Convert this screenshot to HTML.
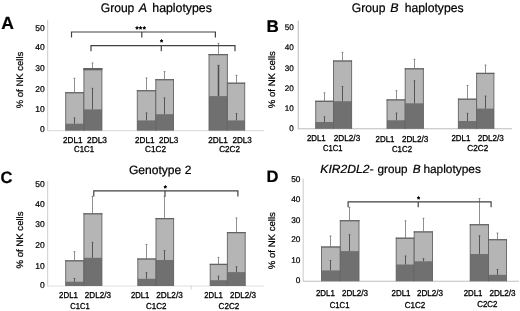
<!DOCTYPE html>
<html><head><meta charset="utf-8"><title>NK cells haplotypes</title>
<style>
html,body{margin:0;padding:0;background:#fff;}
body{width:520px;height:311px;overflow:hidden;font-family:"Liberation Sans",sans-serif;}
svg{display:block;font-family:"Liberation Sans",sans-serif;text-rendering:geometricPrecision;will-change:transform;opacity:0.999;filter:blur(0.35px);}
text{stroke:#000;stroke-width:0.22px;}
</style></head><body>
<svg width="520" height="311" viewBox="0 0 520 311">
<rect width="520" height="311" fill="#ffffff"/>
<line x1="47.60" y1="19.80" x2="47.60" y2="131.10" stroke="#d3d3d3" stroke-width="1.2" />
<line x1="47.60" y1="130.60" x2="264.00" y2="130.60" stroke="#e0e0e0" stroke-width="1.1" />
<rect x="65.70" y="92.10" width="18.20" height="38.50" fill="#b5b5b5"/>
<rect x="65.70" y="123.70" width="18.20" height="6.90" fill="#707070"/>
<path d="M65.70 130.60 V92.10 M83.90 130.60 V92.10" fill="none" stroke="#626262" stroke-width="0.9"/>
<rect x="65.25" y="92.10" width="19.10" height="1.25" fill="#626262"/>
<line x1="74.50" y1="78.00" x2="74.50" y2="92.90" stroke="#747474" stroke-width="0.8" />
<line x1="73.60" y1="78.30" x2="75.40" y2="78.30" stroke="#747474" stroke-width="0.8" />
<line x1="74.50" y1="117.70" x2="74.50" y2="123.70" stroke="#555" stroke-width="1.0" />
<line x1="73.60" y1="118.00" x2="75.40" y2="118.00" stroke="#555" stroke-width="0.8" />
<rect x="83.90" y="68.00" width="18.00" height="62.60" fill="#b5b5b5"/>
<rect x="83.90" y="109.40" width="18.00" height="21.20" fill="#707070"/>
<path d="M83.90 130.60 V68.00 M101.90 130.60 V68.00" fill="none" stroke="#626262" stroke-width="0.9"/>
<rect x="83.45" y="68.00" width="18.90" height="2.3" fill="#626262"/>
<line x1="92.50" y1="62.70" x2="92.50" y2="68.80" stroke="#747474" stroke-width="0.8" />
<line x1="91.60" y1="63.00" x2="93.40" y2="63.00" stroke="#747474" stroke-width="0.8" />
<line x1="92.50" y1="88.00" x2="92.50" y2="109.40" stroke="#555" stroke-width="1.0" />
<line x1="91.60" y1="88.30" x2="93.40" y2="88.30" stroke="#555" stroke-width="0.8" />
<rect x="137.30" y="90.10" width="18.50" height="40.50" fill="#b5b5b5"/>
<rect x="137.30" y="120.40" width="18.50" height="10.20" fill="#707070"/>
<path d="M137.30 130.60 V90.10 M155.80 130.60 V90.10" fill="none" stroke="#626262" stroke-width="0.9"/>
<rect x="136.85" y="90.10" width="19.40" height="1.25" fill="#626262"/>
<line x1="146.50" y1="77.70" x2="146.50" y2="90.90" stroke="#747474" stroke-width="0.8" />
<line x1="145.60" y1="78.00" x2="147.40" y2="78.00" stroke="#747474" stroke-width="0.8" />
<line x1="146.50" y1="112.70" x2="146.50" y2="120.40" stroke="#555" stroke-width="1.0" />
<line x1="145.60" y1="113.00" x2="147.40" y2="113.00" stroke="#555" stroke-width="0.8" />
<rect x="155.80" y="79.10" width="17.70" height="51.50" fill="#b5b5b5"/>
<rect x="155.80" y="114.20" width="17.70" height="16.40" fill="#707070"/>
<path d="M155.80 130.60 V79.10 M173.50 130.60 V79.10" fill="none" stroke="#626262" stroke-width="0.9"/>
<rect x="155.35" y="79.10" width="18.60" height="1.25" fill="#626262"/>
<line x1="164.50" y1="71.30" x2="164.50" y2="79.90" stroke="#747474" stroke-width="0.8" />
<line x1="163.60" y1="71.60" x2="165.40" y2="71.60" stroke="#747474" stroke-width="0.8" />
<line x1="164.50" y1="97.60" x2="164.50" y2="114.20" stroke="#555" stroke-width="1.0" />
<line x1="163.60" y1="97.90" x2="165.40" y2="97.90" stroke="#555" stroke-width="0.8" />
<rect x="209.00" y="54.00" width="18.40" height="76.60" fill="#b5b5b5"/>
<rect x="209.00" y="96.10" width="18.40" height="34.50" fill="#707070"/>
<path d="M209.00 130.60 V54.00 M227.40 130.60 V54.00" fill="none" stroke="#626262" stroke-width="0.9"/>
<rect x="208.55" y="54.00" width="19.30" height="1.25" fill="#626262"/>
<line x1="218.50" y1="43.00" x2="218.50" y2="54.80" stroke="#747474" stroke-width="0.8" />
<line x1="217.60" y1="43.30" x2="219.40" y2="43.30" stroke="#747474" stroke-width="0.8" />
<line x1="218.50" y1="65.00" x2="218.50" y2="96.10" stroke="#4c4c4c" stroke-width="1.5" />
<line x1="217.60" y1="65.30" x2="219.40" y2="65.30" stroke="#555" stroke-width="0.8" />
<rect x="227.40" y="82.60" width="17.30" height="48.00" fill="#b5b5b5"/>
<rect x="227.40" y="120.40" width="17.30" height="10.20" fill="#707070"/>
<path d="M227.40 130.60 V82.60 M244.70 130.60 V82.60" fill="none" stroke="#626262" stroke-width="0.9"/>
<rect x="226.95" y="82.60" width="18.20" height="1.25" fill="#626262"/>
<line x1="236.50" y1="75.00" x2="236.50" y2="83.40" stroke="#747474" stroke-width="0.8" />
<line x1="235.60" y1="75.30" x2="237.40" y2="75.30" stroke="#747474" stroke-width="0.8" />
<line x1="236.50" y1="113.20" x2="236.50" y2="120.40" stroke="#555" stroke-width="1.0" />
<line x1="235.60" y1="113.50" x2="237.40" y2="113.50" stroke="#555" stroke-width="0.8" />
<line x1="298.30" y1="20.80" x2="298.30" y2="129.30" stroke="#c4c4c4" stroke-width="1.2" />
<line x1="298.30" y1="128.80" x2="512.00" y2="128.80" stroke="#bcbcbc" stroke-width="1.1" />
<rect x="315.70" y="100.70" width="17.80" height="28.10" fill="#b5b5b5"/>
<rect x="315.70" y="122.00" width="17.80" height="6.80" fill="#707070"/>
<path d="M315.70 128.80 V100.70 M333.50 128.80 V100.70" fill="none" stroke="#626262" stroke-width="0.9"/>
<rect x="315.25" y="100.70" width="18.70" height="1.25" fill="#626262"/>
<line x1="324.50" y1="92.50" x2="324.50" y2="101.50" stroke="#747474" stroke-width="0.8" />
<line x1="323.60" y1="92.80" x2="325.40" y2="92.80" stroke="#747474" stroke-width="0.8" />
<line x1="324.50" y1="116.50" x2="324.50" y2="122.00" stroke="#555" stroke-width="1.0" />
<line x1="323.60" y1="116.80" x2="325.40" y2="116.80" stroke="#555" stroke-width="0.8" />
<rect x="333.50" y="60.40" width="18.10" height="68.40" fill="#b5b5b5"/>
<rect x="333.50" y="101.20" width="18.10" height="27.60" fill="#707070"/>
<path d="M333.50 128.80 V60.40 M351.60 128.80 V60.40" fill="none" stroke="#626262" stroke-width="0.9"/>
<rect x="333.05" y="60.40" width="19.00" height="1.25" fill="#626262"/>
<line x1="342.50" y1="52.00" x2="342.50" y2="61.20" stroke="#747474" stroke-width="0.8" />
<line x1="341.60" y1="52.30" x2="343.40" y2="52.30" stroke="#747474" stroke-width="0.8" />
<line x1="342.50" y1="86.20" x2="342.50" y2="101.20" stroke="#555" stroke-width="1.0" />
<line x1="341.60" y1="86.50" x2="343.40" y2="86.50" stroke="#555" stroke-width="0.8" />
<rect x="387.00" y="99.30" width="18.20" height="29.50" fill="#b5b5b5"/>
<rect x="387.00" y="120.30" width="18.20" height="8.50" fill="#707070"/>
<path d="M387.00 128.80 V99.30 M405.20 128.80 V99.30" fill="none" stroke="#626262" stroke-width="0.9"/>
<rect x="386.55" y="99.30" width="19.10" height="1.25" fill="#626262"/>
<line x1="396.50" y1="90.40" x2="396.50" y2="100.10" stroke="#747474" stroke-width="0.8" />
<line x1="395.60" y1="90.70" x2="397.40" y2="90.70" stroke="#747474" stroke-width="0.8" />
<line x1="396.50" y1="112.80" x2="396.50" y2="120.30" stroke="#555" stroke-width="1.0" />
<line x1="395.60" y1="113.10" x2="397.40" y2="113.10" stroke="#555" stroke-width="0.8" />
<rect x="405.20" y="68.20" width="18.20" height="60.60" fill="#b5b5b5"/>
<rect x="405.20" y="103.30" width="18.20" height="25.50" fill="#707070"/>
<path d="M405.20 128.80 V68.20 M423.40 128.80 V68.20" fill="none" stroke="#626262" stroke-width="0.9"/>
<rect x="404.75" y="68.20" width="19.10" height="1.25" fill="#626262"/>
<line x1="414.50" y1="59.00" x2="414.50" y2="69.00" stroke="#747474" stroke-width="0.8" />
<line x1="413.60" y1="59.30" x2="415.40" y2="59.30" stroke="#747474" stroke-width="0.8" />
<line x1="414.50" y1="80.50" x2="414.50" y2="103.30" stroke="#555" stroke-width="1.0" />
<line x1="413.60" y1="80.80" x2="415.40" y2="80.80" stroke="#555" stroke-width="0.8" />
<rect x="458.40" y="98.60" width="18.20" height="30.20" fill="#b5b5b5"/>
<rect x="458.40" y="121.00" width="18.20" height="7.80" fill="#707070"/>
<path d="M458.40 128.80 V98.60 M476.60 128.80 V98.60" fill="none" stroke="#626262" stroke-width="0.9"/>
<rect x="457.95" y="98.60" width="19.10" height="1.25" fill="#626262"/>
<line x1="467.50" y1="85.20" x2="467.50" y2="99.40" stroke="#747474" stroke-width="0.8" />
<line x1="466.60" y1="85.50" x2="468.40" y2="85.50" stroke="#747474" stroke-width="0.8" />
<line x1="467.50" y1="113.00" x2="467.50" y2="121.00" stroke="#555" stroke-width="1.0" />
<line x1="466.60" y1="113.30" x2="468.40" y2="113.30" stroke="#555" stroke-width="0.8" />
<rect x="476.60" y="72.80" width="17.30" height="56.00" fill="#b5b5b5"/>
<rect x="476.60" y="108.60" width="17.30" height="20.20" fill="#707070"/>
<path d="M476.60 128.80 V72.80 M493.90 128.80 V72.80" fill="none" stroke="#626262" stroke-width="0.9"/>
<rect x="476.15" y="72.80" width="18.20" height="1.25" fill="#626262"/>
<line x1="485.50" y1="64.80" x2="485.50" y2="73.60" stroke="#747474" stroke-width="0.8" />
<line x1="484.60" y1="65.10" x2="486.40" y2="65.10" stroke="#747474" stroke-width="0.8" />
<line x1="485.50" y1="95.80" x2="485.50" y2="108.60" stroke="#555" stroke-width="1.0" />
<line x1="484.60" y1="96.10" x2="486.40" y2="96.10" stroke="#555" stroke-width="0.8" />
<line x1="47.60" y1="181.00" x2="47.60" y2="286.50" stroke="#d6d6d6" stroke-width="1.2" />
<line x1="47.60" y1="286.00" x2="264.00" y2="286.00" stroke="#e0e0e0" stroke-width="1.1" />
<rect x="65.70" y="260.20" width="18.20" height="25.80" fill="#b5b5b5"/>
<rect x="65.70" y="281.70" width="18.20" height="4.30" fill="#707070"/>
<path d="M65.70 286.00 V260.20 M83.90 286.00 V260.20" fill="none" stroke="#626262" stroke-width="0.9"/>
<rect x="65.25" y="260.20" width="19.10" height="1.25" fill="#626262"/>
<line x1="74.50" y1="251.40" x2="74.50" y2="261.00" stroke="#747474" stroke-width="0.8" />
<line x1="73.60" y1="251.70" x2="75.40" y2="251.70" stroke="#747474" stroke-width="0.8" />
<line x1="74.50" y1="278.20" x2="74.50" y2="281.70" stroke="#555" stroke-width="1.0" />
<line x1="73.60" y1="278.50" x2="75.40" y2="278.50" stroke="#555" stroke-width="0.8" />
<rect x="83.90" y="213.20" width="18.00" height="72.80" fill="#b5b5b5"/>
<rect x="83.90" y="257.80" width="18.00" height="28.20" fill="#707070"/>
<path d="M83.90 286.00 V213.20 M101.90 286.00 V213.20" fill="none" stroke="#626262" stroke-width="0.9"/>
<rect x="83.45" y="213.20" width="18.90" height="1.25" fill="#626262"/>
<line x1="92.50" y1="196.00" x2="92.50" y2="214.00" stroke="#747474" stroke-width="0.8" />
<line x1="91.60" y1="196.30" x2="93.40" y2="196.30" stroke="#747474" stroke-width="0.8" />
<line x1="92.50" y1="242.10" x2="92.50" y2="257.80" stroke="#555" stroke-width="1.0" />
<line x1="91.60" y1="242.40" x2="93.40" y2="242.40" stroke="#555" stroke-width="0.8" />
<rect x="137.80" y="258.40" width="18.20" height="27.60" fill="#b5b5b5"/>
<rect x="137.80" y="278.80" width="18.20" height="7.20" fill="#707070"/>
<path d="M137.80 286.00 V258.40 M156.00 286.00 V258.40" fill="none" stroke="#626262" stroke-width="0.9"/>
<rect x="137.35" y="258.40" width="19.10" height="1.25" fill="#626262"/>
<line x1="146.50" y1="244.20" x2="146.50" y2="259.20" stroke="#747474" stroke-width="0.8" />
<line x1="145.60" y1="244.50" x2="147.40" y2="244.50" stroke="#747474" stroke-width="0.8" />
<line x1="146.50" y1="272.40" x2="146.50" y2="278.80" stroke="#555" stroke-width="1.0" />
<line x1="145.60" y1="272.70" x2="147.40" y2="272.70" stroke="#555" stroke-width="0.8" />
<rect x="156.00" y="218.00" width="17.60" height="68.00" fill="#b5b5b5"/>
<rect x="156.00" y="260.00" width="17.60" height="26.00" fill="#707070"/>
<path d="M156.00 286.00 V218.00 M173.60 286.00 V218.00" fill="none" stroke="#626262" stroke-width="0.9"/>
<rect x="155.55" y="218.00" width="18.50" height="1.25" fill="#626262"/>
<line x1="164.50" y1="196.00" x2="164.50" y2="218.80" stroke="#747474" stroke-width="0.8" />
<line x1="163.60" y1="196.30" x2="165.40" y2="196.30" stroke="#747474" stroke-width="0.8" />
<line x1="164.50" y1="250.30" x2="164.50" y2="260.00" stroke="#555" stroke-width="1.0" />
<line x1="163.60" y1="250.60" x2="165.40" y2="250.60" stroke="#555" stroke-width="0.8" />
<rect x="210.20" y="263.80" width="17.20" height="22.20" fill="#b5b5b5"/>
<rect x="210.20" y="280.20" width="17.20" height="5.80" fill="#707070"/>
<path d="M210.20 286.00 V263.80 M227.40 286.00 V263.80" fill="none" stroke="#626262" stroke-width="0.9"/>
<rect x="209.75" y="263.80" width="18.10" height="1.25" fill="#626262"/>
<line x1="218.50" y1="257.10" x2="218.50" y2="264.60" stroke="#747474" stroke-width="0.8" />
<line x1="217.60" y1="257.40" x2="219.40" y2="257.40" stroke="#747474" stroke-width="0.8" />
<line x1="218.50" y1="275.90" x2="218.50" y2="280.20" stroke="#555" stroke-width="1.0" />
<line x1="217.60" y1="276.20" x2="219.40" y2="276.20" stroke="#555" stroke-width="0.8" />
<rect x="227.40" y="232.00" width="17.80" height="54.00" fill="#b5b5b5"/>
<rect x="227.40" y="272.10" width="17.80" height="13.90" fill="#707070"/>
<path d="M227.40 286.00 V232.00 M245.20 286.00 V232.00" fill="none" stroke="#626262" stroke-width="0.9"/>
<rect x="226.95" y="232.00" width="18.70" height="1.25" fill="#626262"/>
<line x1="236.50" y1="217.70" x2="236.50" y2="232.80" stroke="#747474" stroke-width="0.8" />
<line x1="235.60" y1="218.00" x2="237.40" y2="218.00" stroke="#747474" stroke-width="0.8" />
<line x1="236.50" y1="266.50" x2="236.50" y2="272.10" stroke="#555" stroke-width="1.0" />
<line x1="235.60" y1="266.80" x2="237.40" y2="266.80" stroke="#555" stroke-width="0.8" />
<line x1="303.20" y1="178.60" x2="303.20" y2="281.70" stroke="#d2d2d2" stroke-width="1.2" />
<line x1="303.20" y1="281.20" x2="519.00" y2="281.20" stroke="#c0c0c0" stroke-width="1.1" />
<rect x="321.50" y="246.40" width="18.80" height="34.80" fill="#b5b5b5"/>
<rect x="321.50" y="270.40" width="18.80" height="10.80" fill="#707070"/>
<path d="M321.50 281.20 V246.40 M340.30 281.20 V246.40" fill="none" stroke="#626262" stroke-width="0.9"/>
<rect x="321.05" y="246.40" width="19.70" height="1.25" fill="#626262"/>
<line x1="330.50" y1="235.80" x2="330.50" y2="247.20" stroke="#747474" stroke-width="0.8" />
<line x1="329.60" y1="236.10" x2="331.40" y2="236.10" stroke="#747474" stroke-width="0.8" />
<line x1="330.50" y1="260.20" x2="330.50" y2="270.40" stroke="#555" stroke-width="1.0" />
<line x1="329.60" y1="260.50" x2="331.40" y2="260.50" stroke="#555" stroke-width="0.8" />
<rect x="340.30" y="220.10" width="18.70" height="61.10" fill="#b5b5b5"/>
<rect x="340.30" y="251.10" width="18.70" height="30.10" fill="#707070"/>
<path d="M340.30 281.20 V220.10 M359.00 281.20 V220.10" fill="none" stroke="#626262" stroke-width="0.9"/>
<rect x="339.85" y="220.10" width="19.60" height="1.25" fill="#626262"/>
<line x1="349.50" y1="207.00" x2="349.50" y2="220.90" stroke="#747474" stroke-width="0.8" />
<line x1="348.60" y1="207.30" x2="350.40" y2="207.30" stroke="#747474" stroke-width="0.8" />
<line x1="349.50" y1="234.40" x2="349.50" y2="251.10" stroke="#555" stroke-width="1.0" />
<line x1="348.60" y1="234.70" x2="350.40" y2="234.70" stroke="#555" stroke-width="0.8" />
<rect x="396.20" y="237.60" width="18.00" height="43.60" fill="#b5b5b5"/>
<rect x="396.20" y="264.50" width="18.00" height="16.70" fill="#707070"/>
<path d="M396.20 281.20 V237.60 M414.20 281.20 V237.60" fill="none" stroke="#626262" stroke-width="0.9"/>
<rect x="395.75" y="237.60" width="18.90" height="1.25" fill="#626262"/>
<line x1="405.50" y1="220.50" x2="405.50" y2="238.40" stroke="#747474" stroke-width="0.8" />
<line x1="404.60" y1="220.80" x2="406.40" y2="220.80" stroke="#747474" stroke-width="0.8" />
<line x1="405.50" y1="255.70" x2="405.50" y2="264.50" stroke="#555" stroke-width="1.0" />
<line x1="404.60" y1="256.00" x2="406.40" y2="256.00" stroke="#555" stroke-width="0.8" />
<rect x="414.20" y="231.30" width="18.30" height="49.90" fill="#b5b5b5"/>
<rect x="414.20" y="261.30" width="18.30" height="19.90" fill="#707070"/>
<path d="M414.20 281.20 V231.30 M432.50 281.20 V231.30" fill="none" stroke="#626262" stroke-width="0.9"/>
<rect x="413.75" y="231.30" width="19.20" height="1.25" fill="#626262"/>
<line x1="423.50" y1="218.00" x2="423.50" y2="232.10" stroke="#747474" stroke-width="0.8" />
<line x1="422.60" y1="218.30" x2="424.40" y2="218.30" stroke="#747474" stroke-width="0.8" />
<line x1="423.50" y1="258.40" x2="423.50" y2="261.30" stroke="#555" stroke-width="1.0" />
<line x1="422.60" y1="258.70" x2="424.40" y2="258.70" stroke="#555" stroke-width="0.8" />
<rect x="470.20" y="224.10" width="18.30" height="57.10" fill="#b5b5b5"/>
<rect x="470.20" y="254.00" width="18.30" height="27.20" fill="#707070"/>
<path d="M470.20 281.20 V224.10 M488.50 281.20 V224.10" fill="none" stroke="#626262" stroke-width="0.9"/>
<rect x="469.75" y="224.10" width="19.20" height="1.25" fill="#626262"/>
<line x1="479.50" y1="198.30" x2="479.50" y2="224.90" stroke="#747474" stroke-width="0.8" />
<line x1="478.60" y1="198.60" x2="480.40" y2="198.60" stroke="#747474" stroke-width="0.8" />
<line x1="479.50" y1="235.50" x2="479.50" y2="254.00" stroke="#555" stroke-width="1.0" />
<line x1="478.60" y1="235.80" x2="480.40" y2="235.80" stroke="#555" stroke-width="0.8" />
<rect x="488.50" y="239.10" width="18.00" height="42.10" fill="#b5b5b5"/>
<rect x="488.50" y="274.80" width="18.00" height="6.40" fill="#707070"/>
<path d="M488.50 281.20 V239.10 M506.50 281.20 V239.10" fill="none" stroke="#626262" stroke-width="0.9"/>
<rect x="488.05" y="239.10" width="18.90" height="1.25" fill="#626262"/>
<line x1="497.50" y1="232.80" x2="497.50" y2="239.90" stroke="#747474" stroke-width="0.8" />
<line x1="496.60" y1="233.10" x2="498.40" y2="233.10" stroke="#747474" stroke-width="0.8" />
<line x1="497.50" y1="269.20" x2="497.50" y2="274.80" stroke="#555" stroke-width="1.0" />
<line x1="496.60" y1="269.50" x2="498.40" y2="269.50" stroke="#555" stroke-width="0.8" />
<line x1="191.20" y1="285.60" x2="191.20" y2="289.60" stroke="#d4d4d4" stroke-width="1" />
<path d="M71.50 37.60 V32.00 H215.40 V37.60 M141.80 32.00 V37.60" fill="none" stroke="#424242" stroke-width="1.2"/>
<path d="M91.00 51.30 V45.70 H235.00 V51.30 M161.30 45.70 V51.30" fill="none" stroke="#424242" stroke-width="1.2"/>
<path d="M93.80 196.50 V190.90 H237.90 V196.50 M165.00 190.90 V196.50" fill="none" stroke="#424242" stroke-width="1.2"/>
<path d="M348.10 207.30 V201.80 H491.10 V207.30 M418.20 201.80 V207.30" fill="none" stroke="#424242" stroke-width="1.2"/>
<text x="140.90" y="31.60" font-size="8" text-anchor="middle" font-weight="normal" fill="#000" style="stroke-width:0.45px;letter-spacing:0.55px">***</text>
<text x="161.60" y="45.20" font-size="8" text-anchor="middle" font-weight="normal" fill="#000" style="stroke-width:0.45px">*</text>
<text x="165.20" y="191.00" font-size="8" text-anchor="middle" font-weight="normal" fill="#000" style="stroke-width:0.45px">*</text>
<text x="418.50" y="201.70" font-size="8" text-anchor="middle" font-weight="normal" fill="#000" style="stroke-width:0.45px">*</text>
<text x="1.30" y="28.70" font-size="17.5" text-anchor="start" font-weight="bold" fill="#000" >A</text>
<text x="266.60" y="32.30" font-size="17" text-anchor="start" font-weight="bold" fill="#000" >B</text>
<text x="0.50" y="183.40" font-size="16.5" text-anchor="start" font-weight="bold" fill="#000" >C</text>
<text x="266.60" y="182.30" font-size="16.5" text-anchor="start" font-weight="bold" fill="#000" >D</text>
<text x="100.75" y="11.60" font-size="12.5" text-anchor="start" font-weight="normal" fill="#000" textLength="33.6" lengthAdjust="spacingAndGlyphs" >Group</text>
<text x="143.00" y="11.60" font-size="12.5" text-anchor="middle" font-weight="normal" fill="#000" font-style="italic">A</text>
<text x="152.30" y="11.60" font-size="12.5" text-anchor="start" font-weight="normal" fill="#000" textLength="59.5" lengthAdjust="spacingAndGlyphs" >haplotypes</text>
<text x="351.80" y="11.80" font-size="12.5" text-anchor="start" font-weight="normal" fill="#000" textLength="33.6" lengthAdjust="spacingAndGlyphs" >Group</text>
<text x="394.30" y="11.80" font-size="12.5" text-anchor="middle" font-weight="normal" fill="#000" font-style="italic">B</text>
<text x="404.65" y="11.80" font-size="12.5" text-anchor="start" font-weight="normal" fill="#000" textLength="58.9" lengthAdjust="spacingAndGlyphs" >haplotypes</text>
<text x="128.9" y="174.3" font-size="12" fill="#000" textLength="62.5" lengthAdjust="spacingAndGlyphs">Genotype 2</text>
<text x="320.30" y="173.00" font-size="11.8" text-anchor="start" font-weight="normal" fill="#000" textLength="53.2" lengthAdjust="spacingAndGlyphs" font-style="italic">KIR2DL2-</text>
<text x="377.50" y="173.00" font-size="11.8" text-anchor="start" font-weight="normal" fill="#000" textLength="29.9" lengthAdjust="spacingAndGlyphs" >group</text>
<text x="416.60" y="173.00" font-size="11.8" text-anchor="middle" font-weight="normal" fill="#000" font-style="italic">B</text>
<text x="423.40" y="173.00" font-size="11.8" text-anchor="start" font-weight="normal" fill="#000" textLength="57.5" lengthAdjust="spacingAndGlyphs" >haplotypes</text>
<text x="44.80" y="30.50" font-size="8.5" text-anchor="end" font-weight="normal" fill="#000" >50</text>
<text x="44.80" y="50.30" font-size="8.5" text-anchor="end" font-weight="normal" fill="#000" >40</text>
<text x="44.80" y="71.10" font-size="8.5" text-anchor="end" font-weight="normal" fill="#000" >30</text>
<text x="44.80" y="91.70" font-size="8.5" text-anchor="end" font-weight="normal" fill="#000" >20</text>
<text x="44.80" y="112.00" font-size="8.5" text-anchor="end" font-weight="normal" fill="#000" >10</text>
<text x="44.80" y="131.80" font-size="8.5" text-anchor="end" font-weight="normal" fill="#000" >0</text>
<text x="293.80" y="29.60" font-size="8.1" text-anchor="end" font-weight="normal" fill="#000" >50</text>
<text x="293.80" y="50.10" font-size="8.1" text-anchor="end" font-weight="normal" fill="#000" >40</text>
<text x="293.80" y="70.60" font-size="8.1" text-anchor="end" font-weight="normal" fill="#000" >30</text>
<text x="293.80" y="90.90" font-size="8.1" text-anchor="end" font-weight="normal" fill="#000" >20</text>
<text x="293.80" y="111.00" font-size="8.1" text-anchor="end" font-weight="normal" fill="#000" >10</text>
<text x="293.80" y="130.80" font-size="8.1" text-anchor="end" font-weight="normal" fill="#000" >0</text>
<text x="44.70" y="186.70" font-size="8.5" text-anchor="end" font-weight="normal" fill="#000" >50</text>
<text x="44.70" y="206.50" font-size="8.5" text-anchor="end" font-weight="normal" fill="#000" >40</text>
<text x="44.70" y="227.10" font-size="8.5" text-anchor="end" font-weight="normal" fill="#000" >30</text>
<text x="44.70" y="247.90" font-size="8.5" text-anchor="end" font-weight="normal" fill="#000" >20</text>
<text x="44.70" y="268.50" font-size="8.5" text-anchor="end" font-weight="normal" fill="#000" >10</text>
<text x="44.70" y="288.00" font-size="8.5" text-anchor="end" font-weight="normal" fill="#000" >0</text>
<text x="300.40" y="181.90" font-size="8.3" text-anchor="end" font-weight="normal" fill="#000" >50</text>
<text x="300.40" y="202.00" font-size="8.3" text-anchor="end" font-weight="normal" fill="#000" >40</text>
<text x="300.40" y="222.50" font-size="8.3" text-anchor="end" font-weight="normal" fill="#000" >30</text>
<text x="300.40" y="242.30" font-size="8.3" text-anchor="end" font-weight="normal" fill="#000" >20</text>
<text x="300.40" y="262.80" font-size="8.3" text-anchor="end" font-weight="normal" fill="#000" >10</text>
<text x="300.40" y="282.90" font-size="8.3" text-anchor="end" font-weight="normal" fill="#000" >0</text>
<text transform="translate(23.3,80) rotate(-90)" font-size="9.4" text-anchor="middle" fill="#000" textLength="56.5" lengthAdjust="spacingAndGlyphs">% of NK cells</text>
<text transform="translate(275,79.7) rotate(-90)" font-size="9.4" text-anchor="middle" fill="#000" textLength="57" lengthAdjust="spacingAndGlyphs">% of NK cells</text>
<text transform="translate(23.3,240) rotate(-90)" font-size="9.4" text-anchor="middle" fill="#000" textLength="57" lengthAdjust="spacingAndGlyphs">% of NK cells</text>
<text transform="translate(275,240.7) rotate(-90)" font-size="9.4" text-anchor="middle" fill="#000" textLength="57" lengthAdjust="spacingAndGlyphs">% of NK cells</text>
<text x="63.00" y="142.70" font-size="8.6" text-anchor="start" font-weight="normal" fill="#000" textLength="19.5" lengthAdjust="spacingAndGlyphs" style="stroke-width:0.3px">2DL1</text>
<text x="87.00" y="142.70" font-size="8.6" text-anchor="start" font-weight="normal" fill="#000" textLength="20.0" lengthAdjust="spacingAndGlyphs" style="stroke-width:0.3px">2DL3</text>
<text x="74.00" y="151.80" font-size="8.6" text-anchor="start" font-weight="normal" fill="#000" textLength="20.0" lengthAdjust="spacingAndGlyphs" style="stroke-width:0.3px">C1C1</text>
<text x="135.00" y="142.70" font-size="8.6" text-anchor="start" font-weight="normal" fill="#000" textLength="19.5" lengthAdjust="spacingAndGlyphs" style="stroke-width:0.3px">2DL1</text>
<text x="159.00" y="142.70" font-size="8.6" text-anchor="start" font-weight="normal" fill="#000" textLength="19.3" lengthAdjust="spacingAndGlyphs" style="stroke-width:0.3px">2DL3</text>
<text x="145.00" y="151.80" font-size="8.6" text-anchor="start" font-weight="normal" fill="#000" textLength="21.0" lengthAdjust="spacingAndGlyphs" style="stroke-width:0.3px">C1C2</text>
<text x="208.20" y="142.60" font-size="8.6" text-anchor="start" font-weight="normal" fill="#000" textLength="19.6" lengthAdjust="spacingAndGlyphs" style="stroke-width:0.3px">2DL1</text>
<text x="232.50" y="142.60" font-size="8.6" text-anchor="start" font-weight="normal" fill="#000" textLength="19.3" lengthAdjust="spacingAndGlyphs" style="stroke-width:0.3px">2DL3</text>
<text x="219.20" y="151.80" font-size="8.6" text-anchor="start" font-weight="normal" fill="#000" textLength="20.8" lengthAdjust="spacingAndGlyphs" style="stroke-width:0.3px">C2C2</text>
<text x="306.90" y="141.00" font-size="8.6" text-anchor="start" font-weight="normal" fill="#000" textLength="18.8" lengthAdjust="spacingAndGlyphs" style="stroke-width:0.3px">2DL1</text>
<text x="333.80" y="141.10" font-size="8.6" text-anchor="start" font-weight="normal" fill="#000" textLength="26.4" lengthAdjust="spacingAndGlyphs" style="stroke-width:0.3px">2DL2/3</text>
<text x="323.10" y="151.20" font-size="8.6" text-anchor="start" font-weight="normal" fill="#000" textLength="19.5" lengthAdjust="spacingAndGlyphs" style="stroke-width:0.3px">C1C1</text>
<text x="375.60" y="141.80" font-size="8.6" text-anchor="start" font-weight="normal" fill="#000" textLength="18.9" lengthAdjust="spacingAndGlyphs" style="stroke-width:0.3px">2DL1</text>
<text x="401.90" y="141.80" font-size="8.6" text-anchor="start" font-weight="normal" fill="#000" textLength="26.4" lengthAdjust="spacingAndGlyphs" style="stroke-width:0.3px">2DL2/3</text>
<text x="391.90" y="151.50" font-size="8.6" text-anchor="start" font-weight="normal" fill="#000" textLength="20.2" lengthAdjust="spacingAndGlyphs" style="stroke-width:0.3px">C1C2</text>
<text x="451.40" y="141.00" font-size="8.6" text-anchor="start" font-weight="normal" fill="#000" textLength="19.0" lengthAdjust="spacingAndGlyphs" style="stroke-width:0.3px">2DL1</text>
<text x="477.70" y="141.00" font-size="8.6" text-anchor="start" font-weight="normal" fill="#000" textLength="26.2" lengthAdjust="spacingAndGlyphs" style="stroke-width:0.3px">2DL2/3</text>
<text x="467.30" y="151.00" font-size="8.6" text-anchor="start" font-weight="normal" fill="#000" textLength="21.0" lengthAdjust="spacingAndGlyphs" style="stroke-width:0.3px">C2C2</text>
<text x="59.10" y="298.00" font-size="8.6" text-anchor="start" font-weight="normal" fill="#000" textLength="18.8" lengthAdjust="spacingAndGlyphs" style="stroke-width:0.3px">2DL1</text>
<text x="84.80" y="298.00" font-size="8.6" text-anchor="start" font-weight="normal" fill="#000" textLength="26.1" lengthAdjust="spacingAndGlyphs" style="stroke-width:0.3px">2DL2/3</text>
<text x="70.30" y="308.80" font-size="8.6" text-anchor="start" font-weight="normal" fill="#000" textLength="19.5" lengthAdjust="spacingAndGlyphs" style="stroke-width:0.3px">C1C1</text>
<text x="131.00" y="298.00" font-size="8.6" text-anchor="start" font-weight="normal" fill="#000" textLength="18.4" lengthAdjust="spacingAndGlyphs" style="stroke-width:0.3px">2DL1</text>
<text x="156.30" y="298.00" font-size="8.6" text-anchor="start" font-weight="normal" fill="#000" textLength="26.5" lengthAdjust="spacingAndGlyphs" style="stroke-width:0.3px">2DL2/3</text>
<text x="146.00" y="308.80" font-size="8.6" text-anchor="start" font-weight="normal" fill="#000" textLength="20.5" lengthAdjust="spacingAndGlyphs" style="stroke-width:0.3px">C1C2</text>
<text x="204.30" y="298.00" font-size="8.6" text-anchor="start" font-weight="normal" fill="#000" textLength="18.5" lengthAdjust="spacingAndGlyphs" style="stroke-width:0.3px">2DL1</text>
<text x="229.90" y="298.00" font-size="8.6" text-anchor="start" font-weight="normal" fill="#000" textLength="26.2" lengthAdjust="spacingAndGlyphs" style="stroke-width:0.3px">2DL2/3</text>
<text x="218.60" y="308.80" font-size="8.6" text-anchor="start" font-weight="normal" fill="#000" textLength="20.7" lengthAdjust="spacingAndGlyphs" style="stroke-width:0.3px">C2C2</text>
<text x="315.90" y="296.05" font-size="8.6" text-anchor="start" font-weight="normal" fill="#000" textLength="19.0" lengthAdjust="spacingAndGlyphs" style="stroke-width:0.3px">2DL1</text>
<text x="341.90" y="296.05" font-size="8.6" text-anchor="start" font-weight="normal" fill="#000" textLength="26.2" lengthAdjust="spacingAndGlyphs" style="stroke-width:0.3px">2DL2/3</text>
<text x="329.70" y="307.50" font-size="8.6" text-anchor="start" font-weight="normal" fill="#000" textLength="19.8" lengthAdjust="spacingAndGlyphs" style="stroke-width:0.3px">C1C1</text>
<text x="391.50" y="296.20" font-size="8.6" text-anchor="start" font-weight="normal" fill="#000" textLength="19.0" lengthAdjust="spacingAndGlyphs" style="stroke-width:0.3px">2DL1</text>
<text x="416.90" y="296.20" font-size="8.6" text-anchor="start" font-weight="normal" fill="#000" textLength="26.2" lengthAdjust="spacingAndGlyphs" style="stroke-width:0.3px">2DL2/3</text>
<text x="404.70" y="307.50" font-size="8.6" text-anchor="start" font-weight="normal" fill="#000" textLength="20.6" lengthAdjust="spacingAndGlyphs" style="stroke-width:0.3px">C1C2</text>
<text x="463.70" y="296.40" font-size="8.6" text-anchor="start" font-weight="normal" fill="#000" textLength="18.8" lengthAdjust="spacingAndGlyphs" style="stroke-width:0.3px">2DL1</text>
<text x="489.40" y="296.40" font-size="8.6" text-anchor="start" font-weight="normal" fill="#000" textLength="26.2" lengthAdjust="spacingAndGlyphs" style="stroke-width:0.3px">2DL2/3</text>
<text x="477.20" y="307.40" font-size="8.6" text-anchor="start" font-weight="normal" fill="#000" textLength="20.2" lengthAdjust="spacingAndGlyphs" style="stroke-width:0.3px">C2C2</text>
</svg>
</body></html>
